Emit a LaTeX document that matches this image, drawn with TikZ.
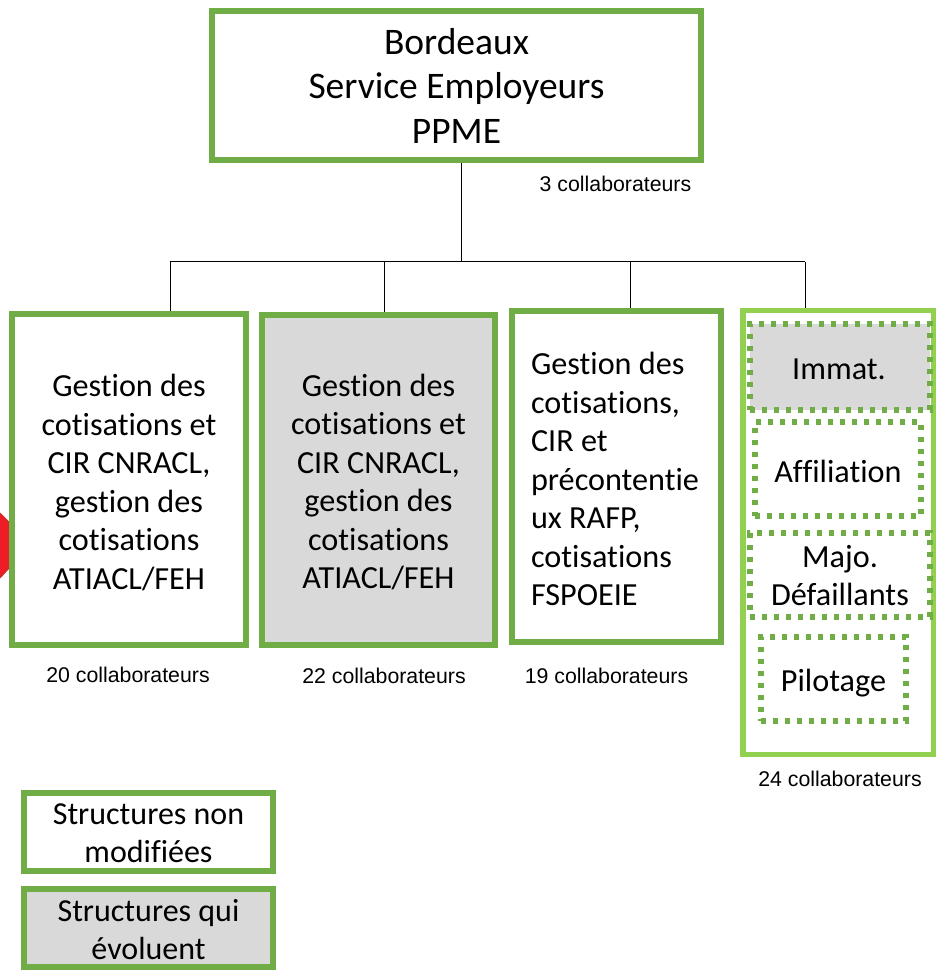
\documentclass[tikz,border=0pt]{standalone}
\usepackage{fontspec}
\setmainfont{Carlito}[Ligatures=NoCommon]
\newfontfamily\labelfont{Liberation Sans}
\definecolor{boxgreen}{HTML}{70AD47}
\definecolor{limegreen}{HTML}{92D050}
\definecolor{boxgrey}{HTML}{D9D9D9}
\definecolor{stopred}{HTML}{EE1C25}
\definecolor{stopedge}{HTML}{C0392B}
\tikzset{
  solidbox/.style={draw=boxgreen,line width=6pt,inner sep=0pt,outer sep=0pt},
  bodytext/.style={inner sep=0pt,outer sep=0pt,align=center,text=black,font=\fontsize{32.2}{38.5}\selectfont},
  headbox/.style={solidbox,align=center,text=black,font=\fontsize{37.5}{44.5}\selectfont},
  legendtext/.style={bodytext,font=\fontsize{32}{38}\selectfont},
  greyed/.style={fill=boxgrey},
  groupbox/.style={draw=limegreen,line width=5.5pt,inner sep=0pt,outer sep=0pt},
  dotbox/.style={draw=boxgreen,line width=5.5pt,dash pattern=on 5pt off 7pt,inner sep=0pt,outer sep=0pt},
  countlabel/.style={font=\labelfont\fontsize{21.3}{25}\selectfont,text=black,inner sep=0pt},
  link/.style={draw=black,line width=1pt},
  droplink/.style={link,shorten >=3pt}
}
\begin{document}
\begin{tikzpicture}[x=1pt,y=-1pt]
\useasboundingbox (0,0) rectangle (936,973);
% stop sign, mostly hidden behind the first box
\fill[stopred] (0,513) -- (12,525) -- (12,565) -- (0,578) -- cycle;
\draw[stopedge,line width=1pt] (0,513) -- (12,525) (12,565) -- (0,578);
% boxes
\node[headbox,minimum width=489pt,minimum height=149pt] (head) at (456.5,85.5) {Bordeaux\\Service Employeurs\\PPME};
\node[solidbox,fill=white,minimum width=234pt,minimum height=331pt] (b1) at (129,479.5) {};
\node[bodytext] (b1text) at (129,482.5)
  {Gestion des\\cotisations et\\CIR CNRACL,\\gestion des\\cotisations\\ATIACL/FEH};
\node[solidbox,greyed,minimum width=233pt,minimum height=330pt] (b2) at (378.5,480) {};
\node[bodytext] (b2text) at (378.5,482)
  {Gestion des\\cotisations et\\CIR CNRACL,\\gestion des\\cotisations\\ATIACL/FEH};
\node[solidbox,minimum width=209pt,minimum height=331pt] (b3) at (616.5,476.5) {};
\node[bodytext,align=left,anchor=west] (b3text) at (531,479)
  {Gestion des\\cotisations,\\CIR et\\précontentie\\ux RAFP,\\cotisations\\FSPOEIE};
\node[groupbox,minimum width=190.5pt,minimum height=444pt] (b4) at (838,532.5) {};
\node[dotbox,greyed,minimum width=180pt,minimum height=86pt] (immat) at (840,367) {};
\node[bodytext] (immattext) at (839,369) {Immat.};
\node[dotbox,minimum width=166pt,minimum height=94pt] (affil) at (838,469) {};
\node[bodytext] (affiltext) at (838,471) {Affiliation};
\node[dotbox,minimum width=180pt,minimum height=84pt] (majo) at (840,575) {};
\node[bodytext] (majotext) at (840,575.5) {Majo.\\Défaillants};
\node[dotbox,minimum width=145pt,minimum height=84pt] (pilot) at (833.5,679) {};
\node[bodytext] (pilottext) at (833.5,683) {Pilotage};
% legend
\node[solidbox,minimum width=249pt,minimum height=78pt] (lega) at (148.5,832) {};
\node[legendtext] (legatext) at (148.5,833) {Structures non\\modifiées};
\node[solidbox,greyed,minimum width=249pt,minimum height=78pt] (legb) at (148.5,928) {};
\node[legendtext] (legbtext) at (148.5,930) {Structures qui\\évoluent};
% counts
\node[countlabel] (c0) at (615.5,184) {3 collaborateurs};
\node[countlabel] (c1) at (128,675) {20 collaborateurs};
\node[countlabel] (c2) at (384,676) {22 collaborateurs};
\node[countlabel] (c3) at (606.5,676) {19 collaborateurs};
\node[countlabel] (c4) at (840,779) {24 collaborateurs};
% connectors
\coordinate (bus) at (461,262);
\coordinate (busa) at (170,262);
\coordinate (busb) at (384,262);
\coordinate (busc) at (630,262);
\coordinate (busd) at (805,262);
\draw[link,shorten <=3pt] (bus |- head.south) -- (bus);
\draw[link] (busa) -- (busd);
\draw[droplink] (busa) -- (busa |- b1.north);
\draw[droplink] (busb) -- (busb |- b2.north);
\draw[droplink] (busc) -- (busc |- b3.north);
\draw[droplink] (busd) -- (busd |- b4.north);
\end{tikzpicture}
\end{document}
